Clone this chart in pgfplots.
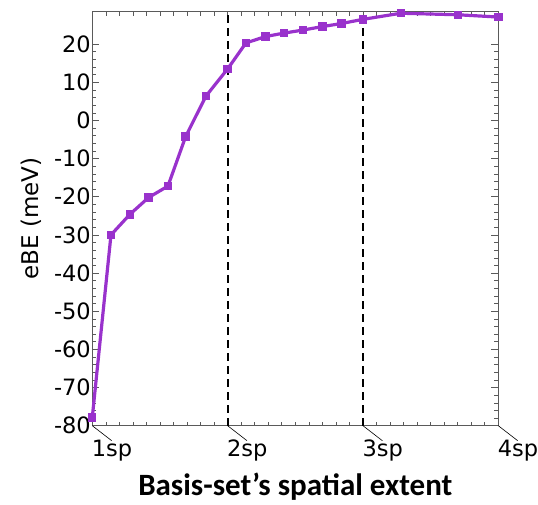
\documentclass[border=0pt]{standalone}
\usepackage{pgfplots}
\pgfplotsset{compat=1.18}
\usepackage{fontspec}
\setmainfont{DejaVu Sans}
\newfontfamily\carlito{Carlito}
\definecolor{lpurple}{RGB}{153,50,204}
\definecolor{axgray}{RGB}{90,90,90}
\begin{document}
\begin{tikzpicture}
\path[use as bounding box] (-92.3pt,-78.3pt) rectangle (445.7pt,425.7pt);
\begin{axis}[
  at={(0pt,0pt)}, anchor=south west,
  scale only axis, width=406pt, height=414pt,
  xmin=1, xmax=4, ymin=-80, ymax=28.5,
  xtick={1,2,3,4}, xticklabels={1sp,2sp,3sp,4sp},
  ytick={-80,-70,...,20},
  minor x tick num=9, minor y tick num=4,
  tick align=inside,
  major tick length=7pt, minor tick length=4pt,
  every tick/.style={axgray, line width=0.6pt},
  axis line style={axgray, line width=0.8pt},
  /pgf/number format/assume math mode=true,
  yticklabel style={font=\fontsize{22.5}{24}\selectfont, xshift=2pt},
  xticklabel style={font=\fontsize{22.5}{24}\selectfont, anchor=north west, xshift=-4pt, yshift=-11pt},
  ylabel={eBE (meV)},
  ylabel style={font=\fontsize{23}{26}\selectfont, yshift=6pt},
  xlabel={\carlito\bfseries Basis-set’s spatial extent},
  xlabel style={font=\fontsize{31}{33}\selectfont, yshift=-4pt},
  clip=false,
]
\addplot[black, line width=1.8pt, dash pattern=on 8pt off 5pt] coordinates {(2,-80) (2,28.5)};
\addplot[black, line width=1.8pt, dash pattern=on 8pt off 5pt] coordinates {(3,-80) (3,28.5)};
\addplot[lpurple, line width=3.2pt, mark=square*, mark size=2.6pt, mark options={solid}] coordinates {
(1.000,-77.8) (1.138,-30.0) (1.278,-24.6) (1.416,-20.2) (1.559,-17.2)
(1.690,-4.2) (1.840,6.4) (2.000,13.5) (2.135,20.3) (2.280,22.0)
(2.418,22.9) (2.558,23.7) (2.700,24.6) (2.840,25.4) (3.000,26.5)
(3.280,28.1) (3.700,27.7) (4.000,27.1)};
\foreach \t in {1,2,3,4}{
  \edef\tmp{\noexpand\draw[black, line width=0.6pt] (axis cs:\t,-80) -- ++(19.4pt,-15pt);}
  \tmp
}
\end{axis}
\end{tikzpicture}
\end{document}
